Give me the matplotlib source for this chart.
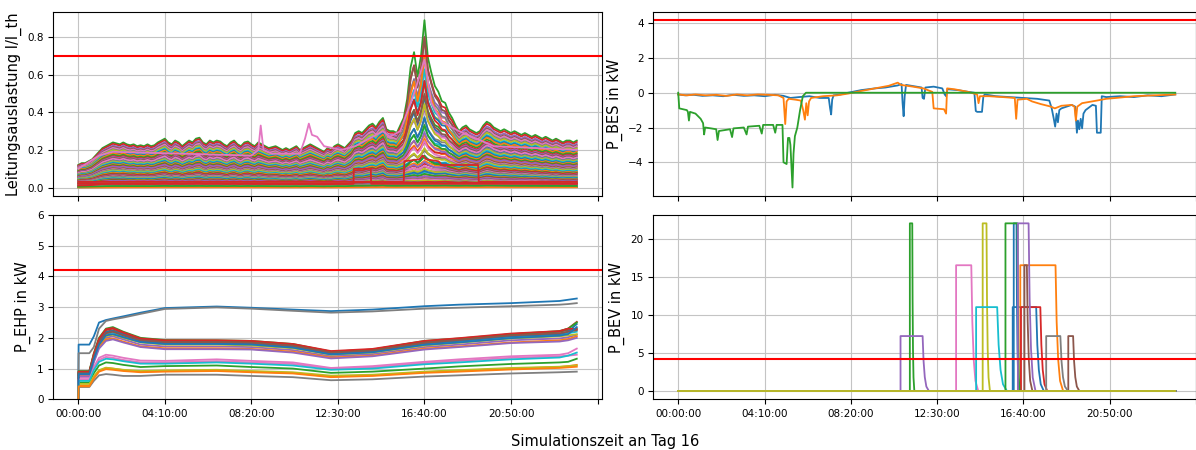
import matplotlib

matplotlib.use("Agg")
import matplotlib.pyplot as plt  # noqa: E402
import numpy as np  # noqa: E402

# x axis: minutes since 00:00 of day 16
tick_min = [0, 250, 500, 750, 1000, 1250, 1500]
tick_labels = ["00:00:00", "04:10:00", "08:20:00", "12:30:00", "16:40:00", "20:50:00", ""]
limit_load = 0.7
limit_kw = 4.2

# --- line loading (10 min samples), upper profile of the feeder head line
load_t = np.arange(0, 1441, 10)
load_base = np.array([
    0.12, 0.13, 0.13, 0.14, 0.15, 0.17, 0.19, 0.21, 0.22, 0.23, 0.24, 0.235,
    0.23, 0.24, 0.23, 0.225, 0.23, 0.22, 0.225, 0.22, 0.23, 0.22, 0.225, 0.24,
    0.25, 0.26, 0.24, 0.23, 0.25, 0.24, 0.22, 0.235, 0.25, 0.24, 0.26, 0.265,
    0.24, 0.23, 0.25, 0.24, 0.25, 0.245, 0.23, 0.22, 0.24, 0.25, 0.23, 0.22,
    0.24, 0.245, 0.23, 0.22, 0.24, 0.23, 0.22, 0.21, 0.215, 0.22, 0.21, 0.2,
    0.21, 0.2, 0.21, 0.22, 0.2, 0.21, 0.22, 0.23, 0.22, 0.21, 0.2, 0.19,
    0.21, 0.2, 0.22, 0.23, 0.22, 0.21, 0.23, 0.25, 0.29, 0.3, 0.29, 0.31,
    0.33, 0.34, 0.32, 0.35, 0.37, 0.31, 0.3, 0.3, 0.29, 0.3, 0.31, 0.32,
    0.31, 0.32, 0.31, 0.32, 0.33, 0.34, 0.33, 0.32, 0.33, 0.34, 0.35, 0.33,
    0.32, 0.31, 0.3, 0.32, 0.33, 0.31, 0.3, 0.29, 0.3, 0.33, 0.35, 0.34,
    0.32, 0.31, 0.3, 0.31, 0.3, 0.29, 0.3, 0.29, 0.28, 0.29, 0.28, 0.27,
    0.28, 0.27, 0.26, 0.27, 0.26, 0.25, 0.26, 0.25, 0.24, 0.25, 0.25, 0.24,
    0.25,
])
# extra loading from EV charging in the afternoon
spike_t = [920, 930, 940, 950, 960, 970, 980, 990, 1000, 1010, 1020, 1030, 1040, 1050,
           1060, 1070, 1080, 1090, 1100]
spike_v = [0.0, 0.03, 0.06, 0.15, 0.33, 0.4, 0.28, 0.38, 0.56, 0.35, 0.28, 0.22, 0.18, 0.12,
           0.1, 0.07, 0.05, 0.02, 0.0]
# per line: share of the upper profile and of the EV peak
line_level = [
    0.62, 0.45, 1.0, 0.97, 0.93, 0.9, 0.88, 0.85, 0.83, 0.8,
    0.78, 0.76, 0.73, 0.7, 0.68, 0.66, 0.64, 0.6, 0.58, 0.56,
    0.54, 0.52, 0.5, 0.48, 0.47, 0.43, 0.41, 0.4, 0.38, 0.36,
    0.34, 0.33, 0.31, 0.3, 0.28, 0.27, 0.25, 0.24, 0.22, 0.21,
    0.2, 0.18, 0.17, 0.16, 0.15, 0.13, 0.12, 0.11, 0.1, 0.09,
    0.08, 0.01, 0.07, 0.03, 0.06, 0.05, 0.04, 0.025, 0.02, 0.015,
    0.012, 0.005, 0.035, 0.09,
]
line_spike = [
    0.5, 0.2, 1.0, 0.85, 0.7, 0.9, 0.6, 0.75, 0.5, 0.65,
    0.55, 0.8, 0.45, 0.6, 0.35, 0.5, 0.4, 0.3, 0.45, 0.25,
    0.35, 0.2, 0.3, 0.15, 0.25, 0.1, 0.2, 0.12, 0.15, 0.08,
    0.1, 0.06, 0.12, 0.05, 0.08, 0.04, 0.06, 0.03, 0.05, 0.02,
    0.04, 0.02, 0.03, 0.01, 0.02, 0.01, 0.01, 0.0, 0.01, 0.0,
    0.0, 0.0, 0.0, 0.0, 0.0, 0.0, 0.0, 0.0, 0.0, 0.0,
    0.0, 0.0, 0.0, 0.0,
]
pink_t = [0, 60, 100, 300, 500, 520, 527, 535, 560, 640, 655, 666, 675, 690, 710,
          760, 800, 880, 900, 930, 950, 970, 990, 1000, 1020, 1050, 1100, 1200, 1440]
pink_v = [0.1, 0.17, 0.19, 0.18, 0.17, 0.2, 0.33, 0.2, 0.18, 0.18, 0.26, 0.34, 0.28, 0.27, 0.22,
          0.2, 0.22, 0.3, 0.27, 0.3, 0.4, 0.5, 0.62, 0.68, 0.45, 0.35, 0.3, 0.22, 0.2]
red_a_t = [0, 795, 796, 845, 846, 1440]
red_a_v = [0.02, 0.02, 0.1, 0.1, 0.02, 0.02]
red_b_t = [0, 940, 942, 985, 995, 1005, 1040, 1046, 1048, 1090, 1155, 1157, 1440]
red_b_v = [0.03, 0.03, 0.14, 0.15, 0.17, 0.15, 0.14, 0.13, 0.12, 0.12, 0.12, 0.03, 0.03]

# --- battery storage power
bes_blue_t = [0, 20, 45, 70, 100, 130, 160, 190, 220, 250, 280, 305, 325, 350, 380, 410, 436,
              440, 443, 446, 450, 470, 492, 530, 570, 600, 636, 647, 650, 653, 656, 660, 690,
              705, 708, 712, 716, 740, 765, 772, 776, 780, 810, 840, 858, 862, 866, 880, 884,
              888, 920, 960, 1000, 1040, 1075, 1082, 1088, 1092, 1096, 1100, 1104, 1110, 1140,
              1150, 1155, 1158, 1162, 1166, 1170, 1174, 1180, 1200, 1210, 1213, 1224, 1227,
              1240, 1280, 1320, 1360, 1400, 1440]
bes_blue_v = [-0.1, -0.15, -0.12, -0.18, -0.15, -0.2, -0.12, -0.18, -0.15, -0.2, -0.12, -0.18,
              -0.3, -0.25, -0.2, -0.3, -0.3, -0.9, -1.25, -0.4, -0.15, -0.1, 0.0, 0.15, 0.25,
              0.3, 0.42, 0.5, -0.6, -1.35, -0.2, 0.45, 0.35, 0.3, -0.3, -0.35, 0.3, 0.35, 0.25,
              -0.1, -0.2, 0.2, 0.15, 0.05, 0.0, -1.05, -1.1, -1.1, -0.2, -0.1, -0.2, -0.25, -0.3,
              -0.35, -0.45, -0.9, -1.5, -1.95, -1.2, -1.7, -1.0, -0.9, -0.7, -0.8, -2.3, -1.6,
              -2.1, -1.5, -2.05, -1.2, -1.0, -0.7, -0.75, -2.3, -2.3, -0.2, -0.25, -0.2, -0.25,
              -0.15, -0.2, -0.1]
bes_orange_t = [0, 25, 50, 80, 110, 140, 170, 200, 230, 260, 290, 305, 310, 314, 320, 340, 355,
                362, 367, 371, 375, 379, 385, 420, 460, 492, 530, 570, 610, 636, 645, 680, 710,
                736, 740, 770, 776, 779, 800, 840, 866, 870, 874, 900, 940, 975, 979, 983, 1010,
                1025, 1050, 1080, 1091, 1110, 1140, 1148, 1152, 1156, 1170, 1213, 1240, 1268,
                1320, 1380, 1440]
bes_orange_v = [-0.1, -0.15, -0.1, -0.15, -0.12, -0.18, -0.1, -0.15, -0.1, -0.12, -0.15, -0.3,
                -1.8, -0.5, -0.35, -0.4, -0.45, -1.0, -1.55, -0.6, -1.3, -0.5, -0.3, -0.2, -0.15,
                -0.05, 0.1, 0.25, 0.4, 0.58, 0.45, 0.35, 0.25, 0.05, -0.9, -0.95, -1.2, 0.25, 0.2,
                0.05, -0.1, -0.6, -0.2, -0.2, -0.25, -0.3, -1.5, -0.4, -0.35, -0.5, -0.65, -0.8,
                -0.9, -0.75, -0.7, -0.8, -1.6, -0.8, -0.6, -0.45, -0.35, -0.3, -0.2, -0.15, -0.1]
bes_green_t = [0, 3, 25, 28, 31, 34, 50, 65, 72, 75, 78, 95, 110, 114, 118, 150, 156, 160, 190,
               198, 202, 235, 242, 246, 275, 281, 285, 302, 305, 314, 318, 322, 325, 331, 334,
               338, 345, 353, 361, 370, 1440]
bes_green_v = [0.0, -0.9, -1.0, -1.1, -1.6, -1.1, -1.2, -1.5, -1.75, -2.4, -2.0, -2.05, -2.1,
               -2.72, -2.2, -2.1, -2.55, -2.05, -2.0, -2.4, -1.95, -1.9, -2.35, -1.85, -1.85,
               -2.3, -1.85, -1.85, -4.0, -4.1, -2.6, -2.6, -3.0, -5.45, -3.5, -2.5, -2.0, -1.0,
               -0.2, 0.0, 0.0]

# --- heat pump power, one row per heat pump
ehp_t = [0, 1, 32, 45, 60, 80, 100, 130, 180, 250, 400, 500, 620, 730, 850, 1000, 1100, 1250, 1390, 1415, 1440]
ehp_values = [
    [0, 1.78, 1.78, 2.05, 2.5, 2.58, 2.63, 2.7, 2.82, 2.97, 3.02, 2.98, 2.92, 2.87, 2.92, 3.03, 3.08, 3.13, 3.2, 3.24, 3.28],
    [0, 0.45, 0.45, 0.7, 0.92, 1.02, 1.0, 0.95, 0.9, 0.92, 0.95, 0.9, 0.86, 0.74, 0.78, 0.88, 0.93, 1.0, 1.05, 1.08, 1.12],
    [0, 0.55, 0.55, 0.85, 1.1, 1.2, 1.18, 1.12, 1.05, 1.08, 1.1, 1.05, 1.0, 0.86, 0.9, 1.0, 1.07, 1.15, 1.2, 1.22, 1.32],
    [0, 0.9, 0.9, 1.45, 1.95, 2.25, 2.3, 2.15, 1.97, 1.9, 1.9, 1.88, 1.78, 1.55, 1.62, 1.88, 1.96, 2.1, 2.2, 2.3, 2.52],
    [0, 0.8, 0.8, 1.28, 1.72, 2.0, 2.05, 1.95, 1.78, 1.72, 1.72, 1.7, 1.6, 1.4, 1.47, 1.7, 1.78, 1.92, 1.98, 2.02, 2.1],
    [0, 0.88, 0.88, 1.4, 1.9, 2.2, 2.25, 2.12, 1.95, 1.88, 1.88, 1.86, 1.76, 1.53, 1.6, 1.86, 1.95, 2.12, 2.2, 2.25, 2.3],
    [0, 0.7, 0.7, 1.05, 1.35, 1.45, 1.42, 1.35, 1.26, 1.25, 1.3, 1.25, 1.2, 1.02, 1.08, 1.22, 1.3, 1.4, 1.45, 1.5, 1.65],
    [0, 1.5, 1.5, 1.7, 2.3, 2.55, 2.6, 2.66, 2.78, 2.94, 2.99, 2.95, 2.88, 2.82, 2.86, 2.95, 2.98, 3.03, 3.08, 3.1, 3.13],
    [0, 0.8, 0.8, 1.3, 1.75, 2.05, 2.1, 2.0, 1.85, 1.78, 1.78, 1.75, 1.66, 1.45, 1.52, 1.75, 1.84, 1.98, 2.05, 2.08, 2.12],
    [0, 0.85, 0.85, 1.35, 1.82, 2.12, 2.17, 2.05, 1.88, 1.82, 1.82, 1.8, 1.7, 1.48, 1.55, 1.8, 1.88, 2.02, 2.1, 2.15, 2.2],
    [0, 0.87, 0.87, 1.42, 1.88, 2.18, 2.22, 2.1, 1.9, 1.84, 1.83, 1.81, 1.72, 1.5, 1.56, 1.82, 1.9, 2.05, 2.12, 2.2, 2.45],
    [0, 0.78, 0.78, 1.25, 1.7, 1.95, 1.98, 1.88, 1.72, 1.66, 1.66, 1.64, 1.55, 1.36, 1.42, 1.65, 1.72, 1.85, 1.92, 1.96, 2.05],
    [0, 0.92, 0.92, 1.5, 2.0, 2.3, 2.35, 2.2, 2.0, 1.93, 1.92, 1.9, 1.8, 1.55, 1.62, 1.9, 1.98, 2.12, 2.22, 2.3, 2.5],
    [0, 0.9, 0.9, 1.48, 1.97, 2.28, 2.32, 2.18, 1.98, 1.92, 1.92, 1.9, 1.8, 1.57, 1.64, 1.9, 1.99, 2.14, 2.22, 2.3, 2.28],
    [0, 0.75, 0.75, 1.2, 1.65, 1.9, 1.95, 1.85, 1.7, 1.63, 1.63, 1.62, 1.52, 1.33, 1.4, 1.62, 1.7, 1.83, 1.88, 1.92, 2.0],
    [0, 0.86, 0.86, 1.38, 1.85, 2.15, 2.2, 2.08, 1.92, 1.86, 1.86, 1.84, 1.74, 1.52, 1.58, 1.84, 1.93, 2.08, 2.15, 2.2, 2.25],
    [0, 0.65, 0.65, 1.0, 1.28, 1.38, 1.35, 1.28, 1.2, 1.2, 1.24, 1.2, 1.15, 1.0, 1.04, 1.18, 1.25, 1.35, 1.4, 1.42, 1.45],
    [0, 0.4, 0.4, 0.6, 0.78, 0.82, 0.8, 0.76, 0.76, 0.8, 0.8, 0.76, 0.72, 0.62, 0.65, 0.74, 0.78, 0.84, 0.88, 0.89, 0.9],
    [0, 0.5, 0.5, 0.75, 0.95, 1.03, 1.0, 0.96, 0.92, 0.94, 0.96, 0.92, 0.88, 0.77, 0.8, 0.9, 0.95, 1.02, 1.06, 1.08, 1.1],
    [0, 0.6, 0.6, 0.95, 1.22, 1.32, 1.3, 1.24, 1.16, 1.16, 1.2, 1.16, 1.1, 0.96, 1.0, 1.14, 1.2, 1.3, 1.36, 1.42, 1.52],
    [0, 0.82, 0.82, 1.3, 1.78, 2.08, 2.12, 2.02, 1.86, 1.8, 1.8, 1.78, 1.68, 1.46, 1.53, 1.77, 1.85, 1.99, 2.07, 2.12, 2.35],
    [0, 0.42, 0.42, 0.68, 0.9, 0.98, 0.96, 0.92, 0.88, 0.9, 0.92, 0.88, 0.84, 0.72, 0.76, 0.86, 0.9, 0.97, 1.02, 1.04, 1.06],
]

# --- EV charging: start, end of full power, power kW, taper length (0 kW = not charging)
ev_on = [969, 991, 671, 993, 644, 1130, 805, 1066, 882, 863, 972, 0, 948, 0, 984, 1003, 0, 0, 0]
ev_off = [1037, 1093, 678, 1049, 708, 1144, 849, 1107, 893, 924, 980, 0, 983, 0, 1015, 1010, 0, 0, 0]
ev_kw = [11.0, 16.5, 22.0, 11.0, 7.2, 7.2, 16.5, 7.2, 22.0, 11.0, 22.0, 0, 22.0, 0, 22.0, 16.5, 0, 0, 0]
ev_tail = [22, 22, 6, 20, 18, 18, 20, 22, 10, 28, 8, 0, 6, 0, 20, 16, 0, 0, 0]
taper_pos = [0.0, 0.15, 0.35, 0.6, 1.0]
taper_frac = [1.0, 0.55, 0.25, 0.08, 0.0]

plt.rcParams["xtick.labelsize"] = 7.5
plt.rcParams["ytick.labelsize"] = 7.5
plt.rcParams["axes.labelsize"] = 10.5
plt.rcParams["grid.color"] = "#c4c4c4"

fig = plt.figure(figsize=(11.96, 4.5), dpi=100)
ax_load = fig.add_axes([0.0446, 0.5644, 0.4585, 0.4096])
ax_bes = fig.add_axes([0.5463, 0.5644, 0.4537, 0.4096])
ax_ehp = fig.add_axes([0.0446, 0.1127, 0.4585, 0.4096])
ax_bev = fig.add_axes([0.5463, 0.1127, 0.4537, 0.4096])

# line loading
spike = np.zeros(len(load_t))
spike[np.isin(load_t, spike_t)] = spike_v
for lvl, sh in zip(line_level, line_spike):
    ax_load.plot(load_t, lvl * load_base + sh * spike, lw=1.3)
ax_load.plot(pink_t, pink_v, color="tab:pink", lw=1.3)
ax_load.plot(red_a_t, red_a_v, color="tab:red", lw=1.3)
ax_load.plot(red_b_t, red_b_v, color="tab:red", lw=1.3)
ax_load.axhline(limit_load, color="red", lw=1.5)
ax_load.set_ylim(-0.045, 0.935)
ax_load.set_ylabel("Leitungsauslastung I/I_th")

# battery storage
ax_bes.plot(bes_blue_t, bes_blue_v, lw=1.3)
ax_bes.plot(bes_orange_t, bes_orange_v, lw=1.3)
ax_bes.plot(bes_green_t, bes_green_v, lw=1.3)
ax_bes.axhline(limit_kw, color="red", lw=1.5)
ax_bes.set_ylim(-5.94, 4.66)
ax_bes.set_ylabel("P_BES in kW")

# heat pumps
for row in ehp_values:
    ax_ehp.plot(ehp_t, row, lw=1.3)
ax_ehp.axhline(limit_kw, color="red", lw=1.5)
ax_ehp.set_ylim(0, 6)
ax_ehp.set_ylabel("P_EHP in kW")

# electric vehicles
for on, off, kw, tail in zip(ev_on, ev_off, ev_kw, ev_tail):
    if kw == 0:
        t, v = [0, 1440], [0, 0]
    else:
        t = [0, on, on, off] + [off + f * tail for f in taper_pos[1:]] + [1440]
        v = [0, 0, kw, kw] + [kw * f for f in taper_frac[1:]] + [0]
    ax_bev.plot(t, v, lw=1.3)
ax_bev.axhline(limit_kw, color="red", lw=1.5)
ax_bev.set_ylim(-1.1, 23.1)
ax_bev.set_ylabel("P_BEV in kW")

for ax in (ax_load, ax_ehp):
    ax.set_xlim(-72, 1512)
for ax in (ax_bes, ax_bev):
    ax.set_xlim(-72, 1500)
for ax in (ax_load, ax_bes, ax_ehp, ax_bev):
    ax.set_xticks(tick_min)
    ax.set_xticklabels(tick_labels)
    ax.grid(True)
for ax in (ax_load, ax_bes):
    ax.tick_params(labelbottom=False)

fig.text(0.5063, 1 - 441.7 / 450, "Simulationszeit an Tag 16", ha="center", va="center", fontsize=10.5)

fig.savefig("out.png", dpi=100)
plt.close(fig)
